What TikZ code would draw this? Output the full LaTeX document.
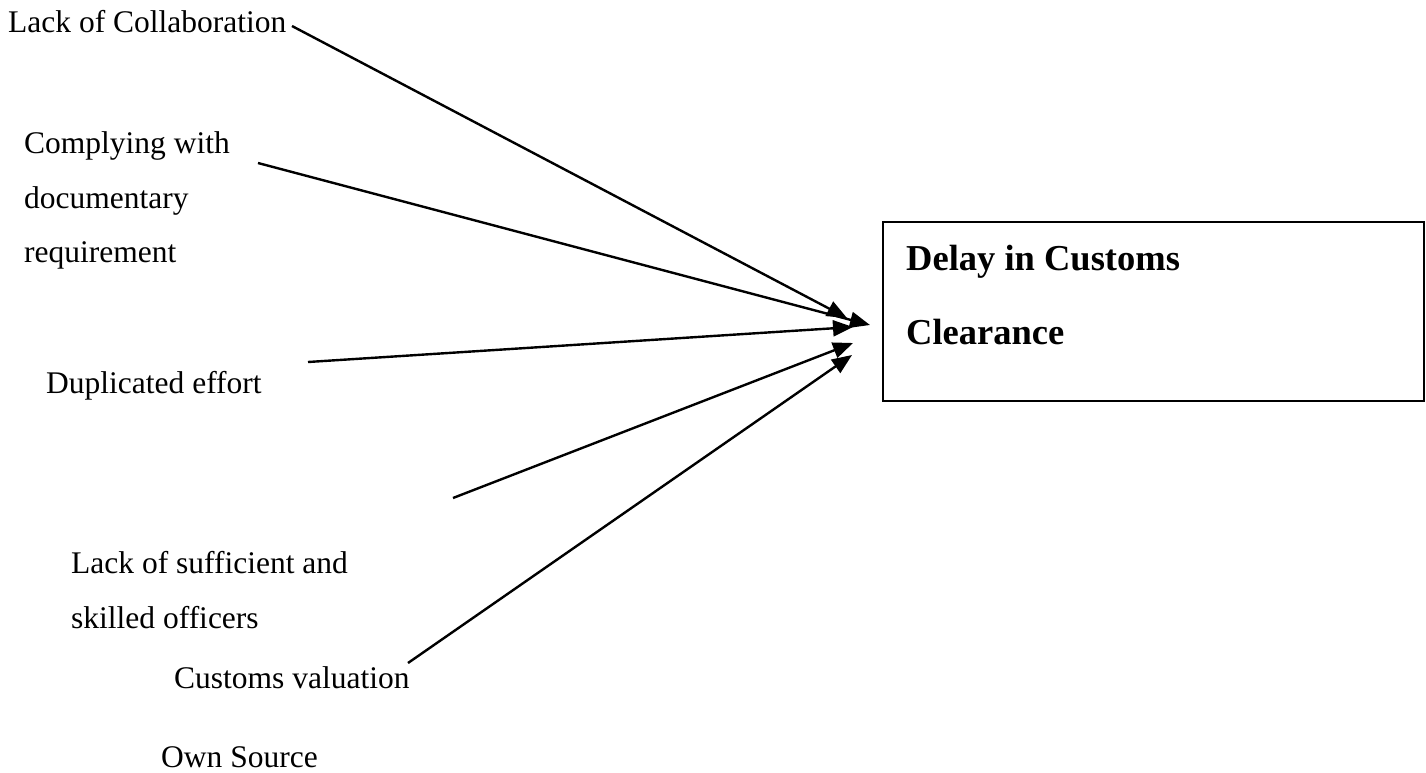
\documentclass[tikz,border=0pt]{standalone}
\usepackage{fontspec}
\setmainfont{Liberation Serif}
\usetikzlibrary{arrows.meta}
\begin{document}
\begin{tikzpicture}[x=1pt,y=-1pt,
  lbl/.style={anchor=base west,inner sep=0pt,font=\fontsize{31.5}{36}\selectfont},
  blbl/.style={anchor=base west,inner sep=0pt,font=\fontsize{36.5}{40}\selectfont\bfseries},
  conn/.style={line width=2.4pt,-{Triangle[length=20pt,width=16pt]}},
  box/.style={draw,line width=2.2pt,inner sep=0pt,minimum width=541pt,minimum height=179pt}]
\useasboundingbox (0,0) rectangle (1426,772);
\node[lbl] (collab) at (8,32) {Lack of Collaboration};
\node[lbl] (comply1) at (24,153) {Complying with};
\node[lbl] (comply2) at (24,208) {documentary};
\node[lbl] (comply3) at (24,262) {requirement};
\node[lbl] (dup) at (46,393) {Duplicated effort};
\node[lbl] (lack1) at (71,573) {Lack of sufficient and};
\node[lbl] (lack2) at (71,628) {skilled officers};
\node[lbl] (val) at (174,688) {Customs valuation};
\node[lbl] (own) at (161,767) {Own Source};
\node[box] (box) at (1153.5,311.5) {};
\node[blbl] (t1) at (906,270) {Delay in Customs};
\node[blbl] (t2) at (906,344) {Clearance};
\coordinate (s1) at (292,26);
\coordinate (e1) at (847,318);
\coordinate (s2) at (258,163);
\coordinate (e2) at (870,325);
\coordinate (s3) at (308,362);
\coordinate (e3) at (853,327);
\coordinate (s4) at (453,498);
\coordinate (e4) at (853,343);
\coordinate (s5) at (408,663);
\coordinate (e5) at (852,355);
\draw[conn] (s1) -- (e1);
\draw[conn] (s2) -- (e2);
\draw[conn] (s3) -- (e3);
\draw[conn] (s4) -- (e4);
\draw[conn] (s5) -- (e5);
\end{tikzpicture}
\end{document}
